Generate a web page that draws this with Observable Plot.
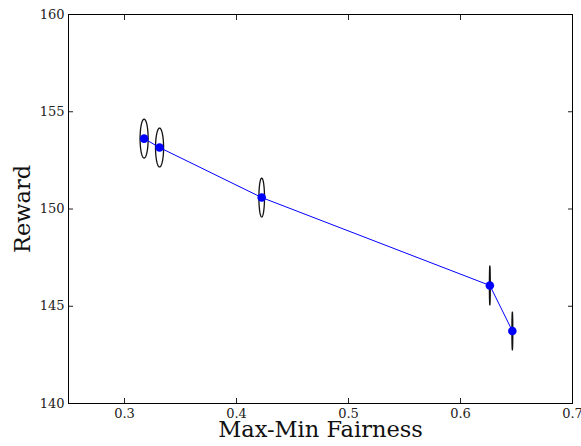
<!DOCTYPE html>
<html><head><meta charset="utf-8">
<script src="https://cdn.jsdelivr.net/npm/d3@7"></script>
<script src="https://cdn.jsdelivr.net/npm/@observablehq/plot@0.6"></script>
<style>html,body{margin:0;padding:0;background:#fff;} svg{display:block;}</style>
</head><body><div id="chart"></div>
<script>
const fairness = [0.3175, 0.3313, 0.4225, 0.6262, 0.6463];
const reward = [153.62, 153.16, 150.59, 146.07, 143.73];
const fairnessErr = [0.0036, 0.0036, 0.0025, 0.0004, 0.0004];
const rewardErr = [1.0, 1.0, 1.0, 1.0, 0.97];
const xTicks = [0.3, 0.4, 0.5, 0.6, 0.7];
const yTicks = [140, 145, 150, 155, 160];

const pts = fairness.map((x, i) => ({x, y: reward[i], ex: fairnessErr[i], ey: rewardErr[i], i}));
const ell = [];
pts.forEach(p => {
  for (let k = 0; k <= 72; k++) {
    const t = 2 * Math.PI * k / 72;
    ell.push({i: p.i, x: p.x + p.ex * Math.cos(t), y: p.y + p.ey * Math.sin(t)});
  }
});
const font = "'DejaVu Serif', serif";
const chart = Plot.plot({
  width: 581, height: 446,
  marginLeft: 68, marginRight: 9, marginTop: 14, marginBottom: 43,
  style: {fontFamily: font, fontSize: "13px", color: "#222", background: "#fff"},
  x: {domain: [0.25, 0.7]},
  y: {domain: [140, 160]},
  marks: [
    Plot.axisX(xTicks, {anchor: "bottom", tickSize: -5, text: null, label: null}),
    Plot.axisX(xTicks, {anchor: "top", tickSize: -5, text: null, label: null}),
    Plot.axisY(yTicks, {anchor: "left", tickSize: -5, text: null, label: null}),
    Plot.axisY(yTicks, {anchor: "right", tickSize: -5, text: null, label: null}),
    Plot.axisX(xTicks, {anchor: "bottom", tickSize: 0, tickPadding: 5, label: null, tickFormat: d => String(d), fill: "#222"}),
    Plot.axisY(yTicks, {anchor: "left", tickSize: 0, tickPadding: 4, label: null, fill: "#222"}),
    Plot.line(ell, {x: "x", y: "y", z: "i", stroke: "#111", strokeWidth: 1.3}),
    Plot.line(pts, {x: "x", y: "y", stroke: "#0000ff", strokeWidth: 1}),
    Plot.dot(pts, {x: "x", y: "y", r: 4.3, fill: "#0000ff", stroke: "none"}),
    Plot.frame({stroke: "#000", strokeWidth: 1}),
    Plot.text(["Max-Min Fairness"], {frameAnchor: "bottom", dy: 33, fontSize: 22.5, fontFamily: font, fill: "#111"}),
    Plot.text(["Reward"], {frameAnchor: "left", textAnchor: "middle", dx: -46, rotate: -90, fontSize: 22.5, fontFamily: font, fill: "#111"})
  ]
});
document.getElementById("chart").appendChild(chart);
</script></body></html>
